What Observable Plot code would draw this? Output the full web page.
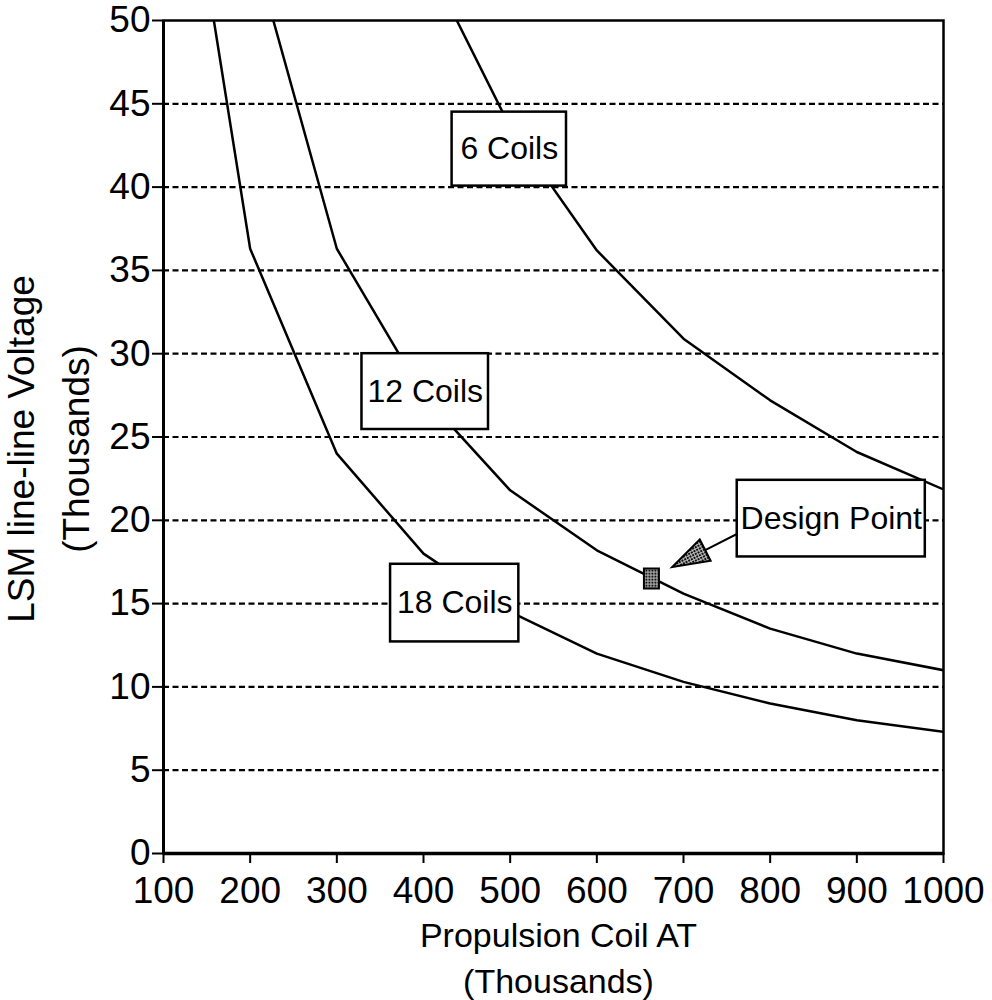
<!DOCTYPE html>
<html><head><meta charset="utf-8">
<script src="https://cdn.jsdelivr.net/npm/d3@7"></script>
<script src="https://cdn.jsdelivr.net/npm/@observablehq/plot@0.6"></script>
<style>body{margin:0;background:#fff}</style>
</head><body><div id="chart"></div>
<script>
// Propulsion coil ampere-turns (thousands)
const coilAT = [100, 200, 300, 400, 500, 600, 700, 800, 900, 1000];
// LSM line-line voltage (thousands) for each coil count (null = not read)
const volts6  = [null, null, null, 54, 43.6, 36.2, 30.9, 27.2, 24.1, 21.85];
const volts12 = [null, 55, 36.3, 27.5, 21.8, 18.2, 15.6, 13.5, 12.0, 11.0];
const volts18 = [69, 36.3, 24.0, 18.0, 14.5, 12.0, 10.3, 9.0, 8.0, 7.3];
const seriesNames = ["6 Coils", "12 Coils", "18 Coils"];
const designPoint = [{at: 663, v: 16.5}];
const xTicks = [100, 200, 300, 400, 500, 600, 700, 800, 900, 1000];
const yTicks = [0, 5, 10, 15, 20, 25, 30, 35, 40, 45, 50];
const gridY = [5, 10, 15, 20, 25, 30, 35, 40, 45];
const xTitle = "Propulsion Coil AT\n(Thousands)";
const yTitle = "LSM line-line Voltage\n(Thousands)";

// label boxes (data units)
const labels = [
  {text: "6 Coils",      x1: 433, x2: 565, y1: 40.06, y2: 44.5},
  {text: "12 Coils",     x1: 329, x2: 475, y1: 25.45, y2: 30},
  {text: "18 Coils",     x1: 362, x2: 510, y1: 12.7,  y2: 17.36},
  {text: "Design Point", x1: 762, x2: 979, y1: 17.8,  y2: 22.4}
];
const arrowTip = [{at: 687, v: 17.2}];

const rows = [];
[volts6, volts12, volts18].forEach((vals, i) => {
  vals.forEach((v, j) => { if (v != null) rows.push({series: seriesNames[i], at: coilAT[j], v}); });
});

const font = "'Liberation Sans', Arial, Helvetica, sans-serif";

const rectSymbol = {draw(ctx) { ctx.rect(-7.5, -10, 15, 20); }};
const arrowShape = {
  draw(ctx, l) {
    const head = 37, half = 12;
    ctx.moveTo(0, 0);
    ctx.lineTo(0, -(l - head));
    ctx.moveTo(0, -l);
    ctx.lineTo(-half, -l + head);
    ctx.lineTo(half, -l + head);
    ctx.closePath();
  }
};

const chart = Plot.plot({
  width: 992,
  height: 1000,
  marginTop: 20,
  marginLeft: 163,
  marginRight: 49,
  marginBottom: 147,
  style: {fontFamily: font, background: "#fff", color: "#000", overflow: "visible"},
  x: {domain: [100, 1000], label: null},
  y: {domain: [0, 50], label: null},
  marks: [
    Plot.ruleY(gridY, {stroke: "#000", strokeWidth: 2.2, strokeDasharray: "6,3.5"}),
    Plot.line(rows, {x: "at", y: "v", z: "series", stroke: "#000", strokeWidth: 2.5, clip: true}),
    Plot.axisX({ticks: xTicks, tickSize: 10, tickPadding: 13, fontSize: 37, strokeWidth: 2, label: null, tickFormat: d => String(d)}),
    Plot.axisY({ticks: yTicks, tickSize: 11, tickPadding: 2, fontSize: 37, strokeWidth: 2, label: null}),
    Plot.frame({stroke: "#000", strokeWidth: 2.5}),
    Plot.ruleY([0], {stroke: "#000", strokeWidth: 3.5}),
    Plot.ruleX([100], {stroke: "#000", strokeWidth: 3}),
    Plot.vector(arrowTip, {x: "at", y: "v", length: 77, rotate: 243, anchor: "end", shape: arrowShape,
      stroke: "#000", strokeWidth: 2, fill: "url(#stipple)", strokeLinejoin: "miter"}),
    Plot.dot(designPoint, {x: "at", y: "v", symbol: rectSymbol, fill: "url(#stipple)", stroke: "#000", strokeWidth: 2}),
    Plot.rect(labels, {x1: "x1", x2: "x2", y1: "y1", y2: "y2", fill: "#fff", stroke: "#000", strokeWidth: 2.5}),
    Plot.text(labels, {x: d => (d.x1 + d.x2) / 2, y: d => (d.y1 + d.y2) / 2, text: "text",
      fontSize: 32, fill: "#000"}),
    Plot.text([xTitle], {frameAnchor: "bottom", textAnchor: "middle", dx: 5, dy: 60, lineAnchor: "top",
      lineHeight: 1.37, fontSize: 34, fill: "#000"}),
    Plot.text([yTitle], {frameAnchor: "left", textAnchor: "middle", dx: -120, dy: 12, rotate: -90,
      lineAnchor: "middle", lineHeight: 1.5, fontSize: 37, fill: "#000"})
  ]
});

const ns = "http://www.w3.org/2000/svg";
const defs = document.createElementNS(ns, "defs");
defs.innerHTML = '<pattern id="stipple" width="3" height="3" patternUnits="userSpaceOnUse">' +
  '<rect width="3" height="3" fill="#bbb"/><rect width="2" height="2" fill="#111"/></pattern>';
chart.prepend(defs);
document.getElementById("chart").appendChild(chart);
</script>
</body></html>
